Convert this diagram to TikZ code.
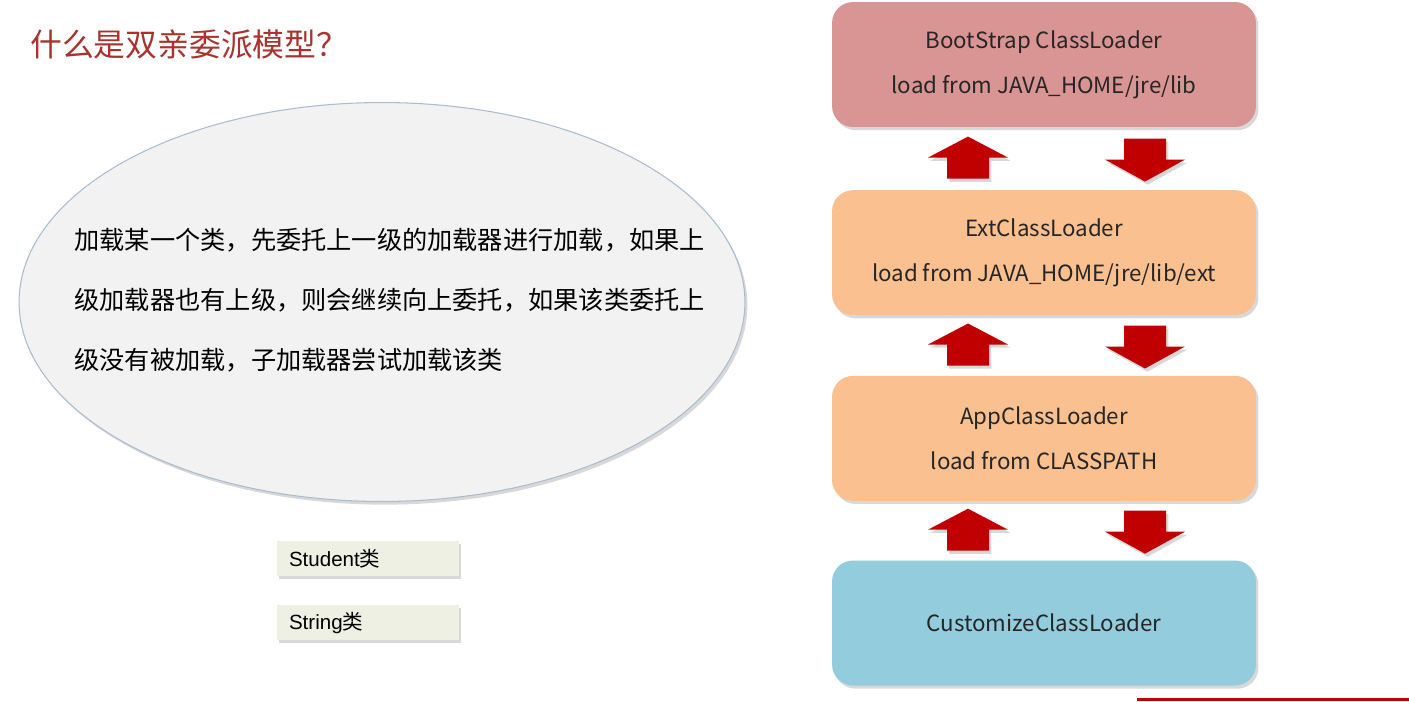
\documentclass[tikz,border=0pt]{standalone}
\usepackage{fontspec}
\setmainfont{Noto Sans CJK SC}
\newfontfamily\arialfont{Liberation Sans}
\newfontfamily\cjk{Noto Sans CJK SC}
\usetikzlibrary{shapes.geometric,shadows,positioning,calc}
\definecolor{TitleRed}{HTML}{A8322D}
\definecolor{BootPink}{HTML}{D99594}
\definecolor{ExtOrange}{HTML}{FAC090}
\definecolor{CustBlue}{HTML}{93CDDD}
\definecolor{ArrowRed}{HTML}{C00000}
\definecolor{BubbleGray}{HTML}{F2F2F2}
\definecolor{BubbleEdge}{HTML}{A9BCD0}
\definecolor{TagGreen}{HTML}{EDF0E2}

\begin{document}
\begin{tikzpicture}[
  x=0.02cm,y=-0.02cm,
  softshadow/.style={drop shadow={opacity=0.3,shadow xshift=1.4pt,shadow yshift=-1.8pt}},
  loader/.style={rounded corners=0.42cm,minimum width=8.48cm,minimum height=2.5cm,align=center,
    text=black!85,font=\fontsize{12.7}{25.5}\selectfont,softshadow},
  bubble/.style={ellipse,draw=BubbleEdge,line width=0.6pt,fill=BubbleGray,minimum width=14.52cm,
    minimum height=7.98cm,softshadow},
  bubbletext/.style={text width=12.7cm,align=left,font=\fontsize{14.35}{34}\selectfont,text=black},
  tag/.style={fill=TagGreen,minimum width=3.64cm,minimum height=0.7cm,text width=3.16cm,align=left,
    font=\arialfont\fontsize{11.7}{13}\selectfont,text=black,inner xsep=0.24cm,softshadow},
  uparrow/.pic={\fill[ArrowRed,softshadow] (-21,21) -- (-21,0) -- (-40,0) -- (0,-21) -- (40,0)
    -- (21,0) -- (21,21) -- cycle;},
  downarrow/.pic={\fill[ArrowRed,softshadow] (-21,-21) -- (21,-21) -- (21,0) -- (40,0) -- (0,22)
    -- (-40,0) -- (-21,0) -- cycle;}
]
\useasboundingbox[fill=white] (0,0) rectangle (1409,701);

% title
\node[anchor=west,text=TitleRed,font=\fontsize{18.1}{20}\selectfont] (title) at (24,44) {什么是双亲委派模型？};

% left: bubble with the rule
\node[bubble] (bubble) at (382,302) {};
\node[bubbletext] (rule) at (392,300) {加载某一个类，先委托上一级的加载器进行加载，如果上\\
级加载器也有上级，则会继续向上委托，如果该类委托上\\
级没有被加载，子加载器尝试加载该类};

\node[tag] (student) at (368,558.5) {Student{\cjk 类}};
\node[tag] (string) at (368,622.5) {String{\cjk 类}};

% right: loader chain
\node[loader,fill=BootPink] (boot) at (1044,64.5) {BootStrap ClassLoader\\load from JAVA\_HOME/jre/lib};
\node[loader,fill=ExtOrange,below=1.25cm of boot] (ext) {ExtClassLoader\\load from JAVA\_HOME/jre/lib/ext};
\node[loader,fill=ExtOrange,below=1.2cm of ext] (app) {AppClassLoader\\load from CLASSPATH};
\node[loader,fill=CustBlue,below=1.18cm of app] (cust) {CustomizeClassLoader};

\foreach \upper/\lower in {boot/ext,ext/app,app/cust}{
  \pic at ($(\upper.south)!0.5!(\lower.north)+(-76,-1)$) {uparrow};
  \pic at ($(\upper.south)!0.5!(\lower.north)+(101,1)$) {downarrow};
}

\draw[ArrowRed,line width=1.8pt] (1137,699.5) -- (1409,699.5);
\end{tikzpicture}
\end{document}
